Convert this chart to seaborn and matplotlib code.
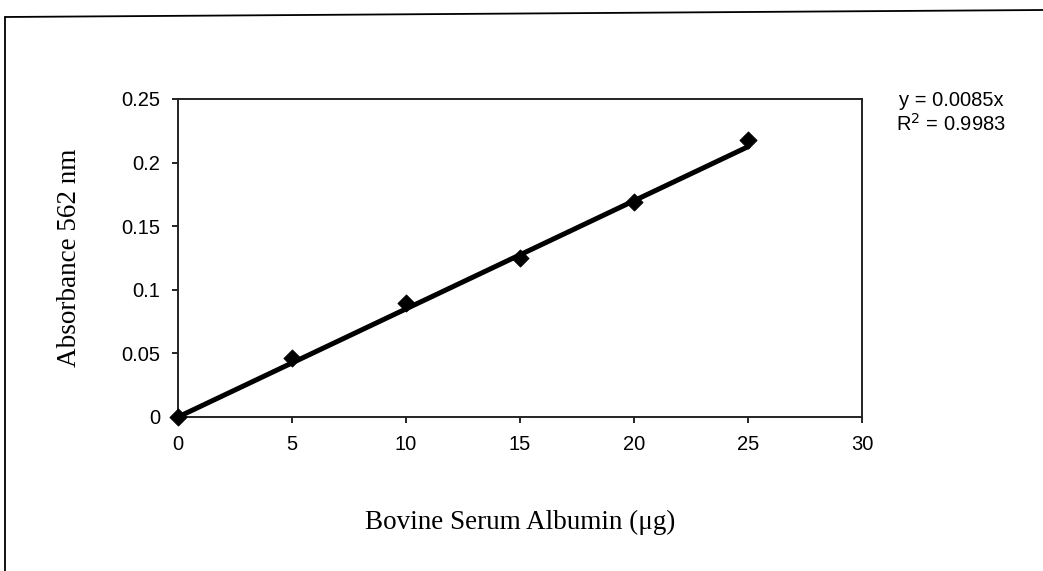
import numpy as np
import pandas as pd
import matplotlib
matplotlib.use("Agg")
import matplotlib.pyplot as plt
import seaborn as sns
from matplotlib.lines import Line2D

# Data
bsa_ug = [0, 5, 10, 15, 20, 25]
absorbance = [0.0, 0.046, 0.090, 0.125, 0.169, 0.218]
slope = 0.0085
r_squared = 0.9983
x_ticks = [0, 5, 10, 15, 20, 25, 30]
y_ticks = [0, 0.05, 0.1, 0.15, 0.2, 0.25]
y_tick_labels = ["0", "0.05", "0.1", "0.15", "0.2", "0.25"]

df = pd.DataFrame({"x": bsa_ug, "y": absorbance})
trend = pd.DataFrame({"x": bsa_ug, "y": [slope * v for v in bsa_ug]})

sns.set_theme(style="white")
plt.rcParams["font.family"] = ["Liberation Sans", "DejaVu Sans"]

fig = plt.figure(figsize=(10.43, 5.71), dpi=100)
ax = fig.add_axes([178 / 1043, 1 - 417 / 571, (862 - 178) / 1043, (417 - 99) / 571])

sns.lineplot(data=trend, x="x", y="y", ax=ax, color="black", linewidth=3.6, zorder=2)
sns.scatterplot(data=df, x="x", y="y", ax=ax, marker="D", s=75, color="black",
                edgecolor="black", zorder=3, clip_on=False)

ax.set_xlim(0, 30)
ax.set_ylim(0, 0.25)
ax.set_xticks(x_ticks)
ax.set_xticklabels([str(t) for t in x_ticks])
ax.set_yticks(y_ticks)
ax.set_yticklabels(y_tick_labels)
ax.tick_params(axis="both", direction="out", length=4, width=1.2, color="black",
               labelsize=14.5, labelcolor="black", bottom=True, left=True)
ax.tick_params(axis="x", pad=9)
ax.tick_params(axis="y", pad=9)
for s in ax.spines.values():
    s.set_visible(True)
    s.set_color("#222222")
    s.set_linewidth(1.4)

ax.set_xlabel("Bovine Serum Albumin (μg)", family=["Liberation Serif", "DejaVu Serif"],
              fontsize=19.5, color="black", labelpad=40)
ax.set_ylabel("Absorbance 562 nm", family=["Liberation Serif", "DejaVu Serif"],
              fontsize=19.5, color="black", labelpad=28)

fig.text(951 / 1043, 1 - 101 / 571, f"y = {slope}x", ha="center", va="center",
         fontsize=14.5, color="black")
fig.text(951 / 1043, 1 - 124 / 571, f"R$^2$ = {r_squared}", ha="center", va="center",
         fontsize=14.5, color="black")

# outer chart frame (left and top edges visible)
fig.add_artist(Line2D([5 / 1043, 5 / 1043], [0, 1 - 17 / 571], transform=fig.transFigure,
                      color="black", linewidth=1.3))
fig.add_artist(Line2D([5 / 1043, 1], [1 - 17 / 571, 1 - 10 / 571], transform=fig.transFigure,
                      color="black", linewidth=1.3))

fig.savefig("out.png", dpi=100)
